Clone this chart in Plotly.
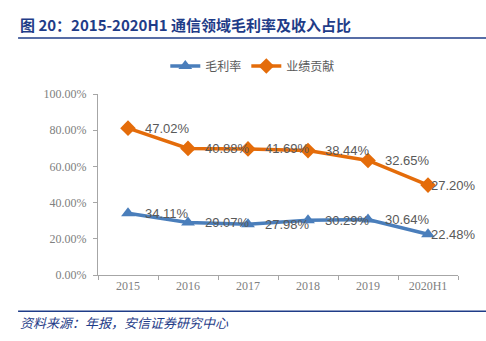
import plotly.graph_objects as go
import numpy as np

years = ["2015", "2016", "2017", "2018", "2019", "2020H1"]
gross_margin = [34.11, 29.07, 27.98, 30.29, 30.64, 22.48]
revenue_share = [47.02, 40.88, 41.69, 38.44, 32.65, 27.20]

blue = "#4A7EBB"
orange = "#E46C0A"

gm = np.array(gross_margin) / 100
rs = np.array(revenue_share) / 100
stacked = gm + rs

fig = go.Figure()
fig.add_trace(go.Scatter(x=years, y=gm, name="毛利率", mode="lines+markers",
                         line=dict(color=blue, width=3.5),
                         marker=dict(symbol="triangle-up", size=12, color=blue)))
fig.add_trace(go.Scatter(x=years, y=stacked, name="业绩贡献", mode="lines+markers",
                         line=dict(color=orange, width=3.5),
                         marker=dict(symbol="diamond", size=12, color=orange)))

n = len(years)
for i in range(n):
    shift = 15 if i < n - 1 else 1
    for yv, lab in ((gm[i], gross_margin[i]), (stacked[i], revenue_share[i])):
        fig.add_annotation(x=i, y=yv, text=f"{lab:.2f}%", showarrow=False,
                           xanchor="left", yanchor="middle", xshift=shift,
                           font=dict(family="Liberation Sans, Arial", size=13, color="#595959"))

fig.add_annotation(xref="paper", yref="paper", x=-0.222, y=1.385, text="<b>图 20：2015-2020H1 通信领域毛利率及收入占比</b>",
                   showarrow=False, xanchor="left", yanchor="middle",
                   font=dict(family="Noto Sans CJK SC", size=15, color="#1F3C88"))
fig.add_annotation(xref="paper", yref="paper", x=-0.222, y=-0.265, text="<i>资料来源：年报，安信证券研究中心</i>",
                   showarrow=False, xanchor="left", yanchor="middle",
                   font=dict(family="Noto Sans CJK SC", size=13, color="#1F3C88"))
fig.add_shape(type="line", xref="paper", yref="paper", x0=-0.222, x1=1.08, y0=1.31, y1=1.31,
              line=dict(color="#1F3C88", width=1.5))
fig.add_shape(type="line", xref="paper", yref="paper", x0=-0.222, x1=1.08, y0=-0.2, y1=-0.2,
              line=dict(color="#1F3C88", width=1.5))

fig.update_layout(
    width=486, height=341,
    margin=dict(l=98, r=28, t=94, b=66),
    paper_bgcolor="white", plot_bgcolor="white",
    showlegend=True,
    legend=dict(orientation="h", x=0.43, xanchor="center", y=1.155, yanchor="middle",
                font=dict(family="Noto Sans CJK SC", size=12, color="#595959")),
    xaxis=dict(type="category", range=[-0.5, 5.5], showline=True, linecolor="#A6A6A6", linewidth=1,
               ticks="outside", ticklen=4, tickcolor="#A6A6A6", tickson="boundaries",
               showgrid=False, tickangle=0,
               tickfont=dict(family="Liberation Serif, Times New Roman", size=12, color="#808080")),
    yaxis=dict(range=[0, 1], dtick=0.2, tickformat=".2%", showline=True, linecolor="#A6A6A6",
               linewidth=1, ticks="outside", ticklen=4, tickcolor="#A6A6A6", showgrid=False,
               zeroline=False, ticklabelstandoff=4,
               tickfont=dict(family="Liberation Serif, Times New Roman", size=12, color="#808080")),
)

fig.write_html("out.html")
